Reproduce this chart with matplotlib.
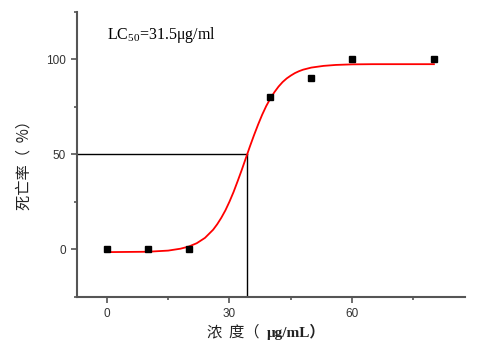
import matplotlib
matplotlib.use("Agg")
import matplotlib.pyplot as plt
from matplotlib.ticker import MultipleLocator

plt.rcParams["mathtext.fontset"] = "custom"
plt.rcParams["mathtext.rm"] = "Liberation Serif"
plt.rcParams["mathtext.it"] = "Liberation Serif:italic"
plt.rcParams["mathtext.bf"] = "Liberation Serif:bold"

# measured data points
conc = [0, 10, 20, 40, 50, 60, 80]
mortality = [0, 0, 0, 80, 90, 100, 100]

# fitted curve
curve_x = [0, 5, 10, 15, 18, 20, 22, 24, 26, 27, 28, 29, 30, 31, 32, 33, 34, 35, 36, 37, 38, 39, 40,
           41, 42, 43, 44, 45, 46, 47, 48, 50, 53, 56, 60, 65, 70, 80]
curve_y = [-1.5, -1.4, -1.3, -0.7, 0.3, 1.4, 3.2, 6.0, 10.3, 13.2, 16.6, 20.5, 25.1, 30.2, 35.9, 41.8,
           48.0, 54.2, 60.1, 65.7, 70.9, 75.5, 79.4, 82.8, 85.7, 88.1, 90.0, 91.5, 92.8, 93.8, 94.6,
           95.7, 96.6, 97.1, 97.4, 97.5, 97.5, 97.5]

lc50_x = 34.4
lc50_y = 50

xticks = [0, 30, 60]
yticks = [0, 50, 100]

fig = plt.figure(figsize=(4.8, 3.52), dpi=100)
ax = fig.add_axes([0.1604, 0.157, 0.8083, 0.809])

ax.plot(curve_x, curve_y, color="#ff0000", lw=1.3, zorder=3)
ax.plot(conc, mortality, "s", color="black", ms=4, zorder=4)
ax.plot([-7.3, lc50_x], [lc50_y, lc50_y], color="black", lw=1.0, zorder=2)
ax.plot([lc50_x, lc50_x], [lc50_y, -25], color="black", lw=1.0, zorder=2)

ax.set_xlim(-7.3, 87.6)
ax.set_ylim(-25, 125)
ax.set_xticks(xticks)
ax.set_yticks(yticks)
ax.xaxis.set_minor_locator(MultipleLocator(15))
ax.yaxis.set_minor_locator(MultipleLocator(25))

for s in ["top", "right"]:
    ax.spines[s].set_visible(False)
for s in ["left", "bottom"]:
    ax.spines[s].set_color("#555555")
    ax.spines[s].set_linewidth(1.5)

ax.tick_params(which="major", direction="out", length=4, width=1.2, color="#555555",
               labelsize=8.5, labelcolor="#333333", pad=4)
ax.tick_params(which="minor", direction="out", length=2.5, width=1.2, color="#555555")
for lab in ax.get_xticklabels() + ax.get_yticklabels():
    lab.set_family(["Liberation Sans"])

ax.text(0.0, 113, r"LC$_{\mathrm{50}}$=31.5μg/ml", fontsize=11.5, family=["Liberation Serif"],
        ha="left", va="center")

fig.text(0.555, 0.057, "浓  度（  ", fontsize=11, family=["Noto Sans CJK SC"], ha="right", va="center",
         color="#222222")
fig.text(0.555, 0.057, "μg/mL）", fontsize=11, family=["Liberation Serif", "Noto Sans CJK SC"],
         fontweight="bold", ha="left", va="center", color="#222222")
fig.text(0.05, 0.54, "死亡率（  %）", fontsize=11, family=["Noto Sans CJK SC"], rotation=90,
         ha="center", va="center", color="#222222")

fig.savefig("out.png", dpi=100)
